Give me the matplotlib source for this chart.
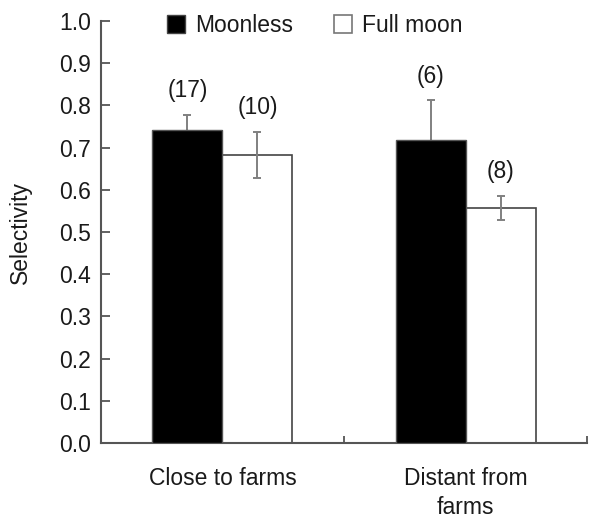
import numpy as np
import matplotlib
matplotlib.use("Agg")
import matplotlib.pyplot as plt
from matplotlib.patches import Patch

plt.rcParams["font.family"] = ["Liberation Sans", "DejaVu Sans"]

categorias = ["Close to farms", "Distant from\nfarms"]
series = ["Moonless", "Full moon"]
moonless = [0.742, 0.718]
moonless_err = [0.035, 0.094]
fullmoon = [0.682, 0.557]
fullmoon_err = [0.055, 0.028]
n_moonless = ["(17)", "(6)"]
n_fullmoon = ["(10)", "(8)"]

GRIS = "#555555"
TXT = "#1a1a1a"
FS = 16.5
ancho = 0.288
centros = np.array([0.5, 1.5])
x_moon = centros - ancho / 2
x_full = centros + ancho / 2

fig = plt.figure(figsize=(5.9, 5.19), dpi=100)
ax = fig.add_axes([0.171, 0.1464, 0.824, 0.8131])

# barras: la negra tapa la parte baja de su barra de error, la blanca no
ax.bar(x_full, fullmoon, ancho, color="white", edgecolor="#444444", linewidth=1.2, zorder=2)
ax.errorbar(np.r_[x_moon, x_full], np.r_[moonless, fullmoon],
            yerr=np.r_[moonless_err, fullmoon_err], fmt="none",
            ecolor="#808080", elinewidth=1.4, capsize=2.8, capthick=1.4, zorder=2.5)
ax.bar(x_moon, moonless, ancho, color="black", edgecolor="#555555", linewidth=1.0, zorder=3)

for x, v, e, t in zip(np.r_[x_moon, x_full], np.r_[moonless, fullmoon],
                      np.r_[moonless_err, fullmoon_err], n_moonless + n_fullmoon):
    ax.text(x, v + e + 0.03, t, ha="center", va="bottom", fontsize=FS, color=TXT)

ax.set_xlim(0, 2)
ax.set_ylim(0, 1.0)
yt = np.arange(0, 1.01, 0.1)
ax.set_yticks(yt)
ax.set_yticklabels([f"{v:.1f}" for v in yt], fontsize=FS, color=TXT)
ax.set_xticks([1, 2])
ax.set_xticklabels([])
ax.set_xticks(centros, minor=True)
ax.set_xticklabels(categorias, minor=True, fontsize=FS, color=TXT, linespacing=1.35)
ax.tick_params(axis="x", which="minor", length=0, pad=17)
ax.tick_params(axis="x", which="major", direction="in", color=GRIS, width=1.3, length=5)
ax.tick_params(axis="y", direction="in", color=GRIS, width=1.3, length=6.5, pad=7)

for s in ["top", "right"]:
    ax.spines[s].set_visible(False)
for s in ["left", "bottom"]:
    ax.spines[s].set_color(GRIS)
    ax.spines[s].set_linewidth(1.5)

ax.set_ylabel("Selectivity", fontsize=FS, color=TXT, labelpad=20)

handles = [Patch(facecolor="black", edgecolor="#444444", label=series[0]),
           Patch(facecolor="white", edgecolor="#777777", linewidth=1.2, label=series[1])]
ax.legend(handles=handles, ncol=2, frameon=False, fontsize=FS, loc="center",
          bbox_to_anchor=(0.44, 0.99), handlelength=0.8, handleheight=0.8,
          handletextpad=0.45, columnspacing=1.75, labelcolor=TXT, borderpad=0)

fig.savefig("out.png", dpi=100, facecolor="white")
